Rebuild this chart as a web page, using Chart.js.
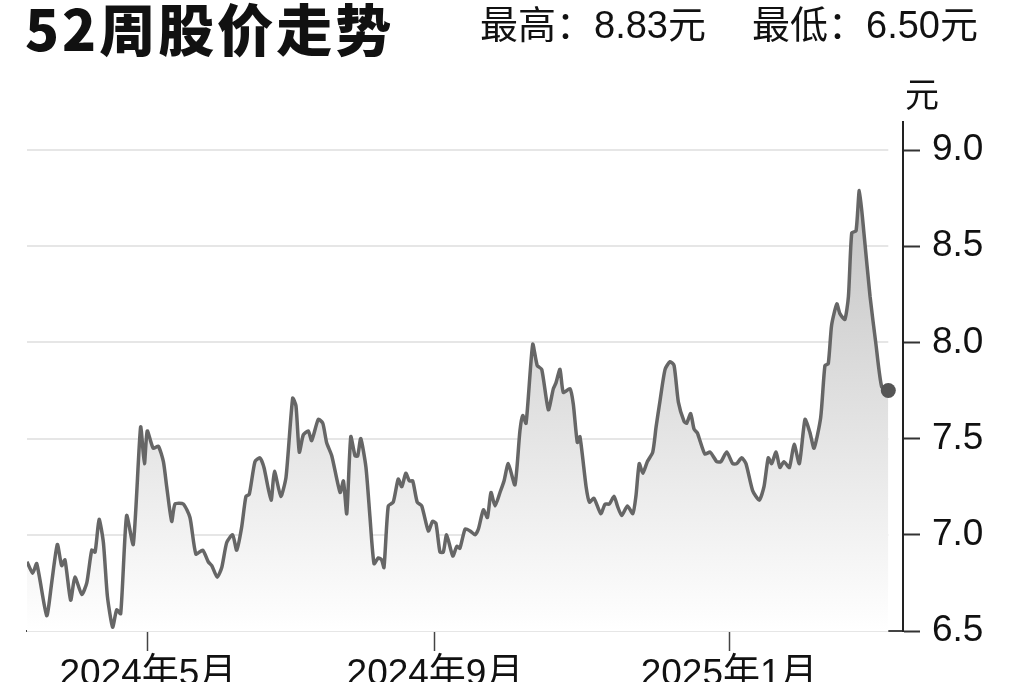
<!DOCTYPE html>
<html>
<head>
<meta charset="utf-8">
<script src="https://cdn.jsdelivr.net/npm/chart.js@4/dist/chart.umd.min.js"></script>
<style>
  body { margin: 0; background: #fff; }
  #wrap { position: relative; width: 1024px; height: 682px; overflow: hidden; }
  #chart { position: absolute; left: 0; top: 0; }
  .title { position: absolute; left: 25px; top: -4px; font-family: "Noto Sans CJK SC", sans-serif;
           font-weight: 900; font-size: 56px; letter-spacing: 3px; color: #111; line-height: 1.1; }
  .sub { position: absolute; top: 5px; font-family: "Liberation Sans", "Noto Sans CJK SC", sans-serif;
         font-size: 38px; color: #111; line-height: 1.1; }
  .unit { position: absolute; left: 905px; top: 74px; font-family: "Noto Sans CJK SC", sans-serif;
          font-size: 34px; color: #111; line-height: 1.1; }
</style>
</head>
<body>
<div id="wrap">
  <canvas id="chart" width="1024" height="682"></canvas>
  <div class="title">52周股价走势</div>
  <div class="sub" style="left:480px">最高：8.83元</div>
  <div class="sub" style="left:752px">最低：6.50元</div>
  <div class="unit">元</div>
</div>
<script>
// 横轴为自2024年3月中旬起的天数
const days = [0,2.4,4.1,8.3,10.4,12.8,14.6,16.0,18.4,20.2,23.1,25.2,27.3,28.7,30.4,32.2,33.9,36.1,37.8,39.5,
  42.0,44.8,47.9,49.5,50.7,53.2,55.4,57.5,58.9,61.0,62.4,65.9,68.7,71.2,74.1,76.4,77.9,80.2,82.1,84.2,
  86.7,88.4,90.5,92.3,93.7,96.1,98.2,99.9,102.9,104.3,107.0,109.2,112.0,113.4,114.8,116.5,118.6,120.0,122.8,124.7,
  126.3,128.5,132.0,133.4,134.8,136.5,138.3,139.4,140.7,142.9,144.6,146.3,148.1,149.5,150.5,152.3,154.4,156.5,158.0,159.7,
  161.2,162.6,164.5,166.4,169.2,171.0,172.4,174.1,175.5,176.9,179.5,181.2,182.5,184.7,186.8,188.9,190.3,192.4,194.1,195.6,
  197.3,199.4,201.1,202.9,205.7,207.8,209.0,210.4,213.2,215.1,217.0,219.8,221.9,223.0,224.7,226.1,228.9,230.3,232.0,233.1,
  235.7,237.1,239.0,241.9,243.7,245.5,247.5,248.9,250.7,253.1,255.4,256.7,258.1,259.6,261.5,263.8,265.2,266.9,269.0,271.1,
  272.8,274.6,277.0,278.1,279.8,281.2,282.6,283.7,285.8,288.0,290.8,292.5,295.0,297.5,299.2,301.3,303.1,305.9,308.7,310.7,
  312.5,313.9,315.8,317.4,319.1,321.4,323.4,325.6,328.0,330.1,331.8,334.6,336.4,337.8,339.2,341.4,342.7,344.8,346.3,347.7,
  349.5,350.9,352.9,355.4,357.9,360.3,363.1];

const prices = [6.86,6.80,6.85,6.58,6.75,6.95,6.84,6.87,6.66,6.78,6.69,6.75,6.92,6.91,7.08,6.96,6.68,6.52,6.61,6.59,
  7.10,6.95,7.56,7.37,7.54,7.45,7.46,7.38,7.25,7.07,7.16,7.16,7.09,6.90,6.92,6.86,6.84,6.78,6.83,6.96,
  7.00,6.92,7.04,7.20,7.21,7.38,7.40,7.35,7.18,7.33,7.20,7.30,7.71,7.67,7.43,7.52,7.54,7.49,7.60,7.58,
  7.48,7.41,7.22,7.28,7.11,7.51,7.41,7.41,7.50,7.35,7.09,6.85,6.88,6.87,6.83,7.15,7.17,7.29,7.25,7.32,
  7.28,7.28,7.17,7.15,7.02,7.07,7.06,6.91,6.91,7.00,6.89,6.94,6.93,7.03,7.02,7.00,7.03,7.13,7.09,7.22,
  7.15,7.22,7.28,7.37,7.26,7.54,7.62,7.58,7.99,7.88,7.86,7.65,7.76,7.79,7.86,7.74,7.76,7.68,7.48,7.51,
  7.25,7.17,7.19,7.11,7.16,7.16,7.20,7.15,7.10,7.15,7.11,7.20,7.37,7.32,7.38,7.43,7.56,7.70,7.86,7.90,
  7.88,7.69,7.59,7.58,7.63,7.55,7.53,7.49,7.42,7.43,7.38,7.38,7.43,7.37,7.37,7.40,7.37,7.23,7.18,7.25,
  7.40,7.37,7.43,7.35,7.38,7.35,7.47,7.37,7.60,7.53,7.45,7.61,7.88,7.89,8.09,8.20,8.15,8.12,8.24,8.57,
  8.58,8.79,8.56,8.24,7.99,7.77,7.75];

const tickDays = [51, 172, 296];
const tickLabels = ["2024年5月", "2024年9月", "2025年1月"];
const yTicks = [6.5, 7.0, 7.5, 8.0, 8.5, 9.0];

const points = days.map((d, i) => ({ x: d, y: prices[i] }));
const lastIdx = points.length - 1;

// 网格线只画到最后一个数据点为止
const gridPlugin = {
  id: "shortGrid",
  beforeDatasetsDraw(chart) {
    const { ctx, chartArea, scales } = chart;
    const right = scales.x.getPixelForValue(days[lastIdx]);
    ctx.save();
    ctx.strokeStyle = "#e6e6e6";
    ctx.lineWidth = 2;
    yTicks.forEach((v) => {
      const y = Math.round(scales.y.getPixelForValue(v));
      ctx.beginPath();
      ctx.moveTo(chartArea.left, y);
      ctx.lineTo(right, y);
      ctx.stroke();
    });
    ctx.restore();
  },
};

new Chart(document.getElementById("chart"), {
  type: "line",
  data: {
    datasets: [
      {
        data: points,
        borderColor: "#666",
        borderWidth: 3.5,
        tension: 0.2,
        borderJoinStyle: "round",
        fill: "start",
        backgroundColor: function (context) {
          const area = context.chart.chartArea;
          if (!area) return "#eee";
          const g = context.chart.ctx.createLinearGradient(0, area.top + 60, 0, area.bottom);
          g.addColorStop(0, "#c2c2c2");
          g.addColorStop(1, "#ffffff");
          return g;
        },
        pointRadius: (c) => (c.dataIndex === lastIdx ? 7.5 : 0),
        pointBackgroundColor: "#555",
        pointBorderWidth: 0,
      },
    ],
  },
  options: {
    responsive: false,
    animation: false,
    devicePixelRatio: 1,
    layout: { padding: { top: 122, left: 27, right: 0, bottom: 0 } },
    plugins: { legend: { display: false }, tooltip: { enabled: false } },
    scales: {
      x: {
        type: "linear",
        min: 0,
        max: 369.3,
        afterFit: (s) => { s.height = 51; },
        afterBuildTicks: (s) => { s.ticks = tickDays.map((v) => ({ value: v })); },
        grid: { drawOnChartArea: false, tickLength: 20, tickColor: "#444", tickWidth: 1.5 },
        border: { display: true, color: "#444", width: 2 },
        ticks: {
          padding: 2,
          maxRotation: 0,
          color: "#111",
          font: { family: "'Liberation Sans', 'Noto Sans CJK SC', sans-serif", size: 37 },
          callback: (v) => tickLabels[tickDays.indexOf(v)],
        },
      },
      y: {
        position: "right",
        min: 6.5,
        max: 9.146,
        afterFit: (s) => { s.width = 121; },
        afterBuildTicks: (s) => { s.ticks = yTicks.map((v) => ({ value: v })); },
        grid: { drawOnChartArea: false, tickLength: 17, tickColor: "#333", tickWidth: 2 },
        border: { display: true, color: "#222", width: 2 },
        ticks: {
          padding: 12,
          color: "#111",
          font: { family: "'Liberation Sans', sans-serif", size: 37 },
          callback: (v) => v.toFixed(1),
        },
      },
    },
  },
  plugins: [gridPlugin],
});
</script>
</body>
</html>
